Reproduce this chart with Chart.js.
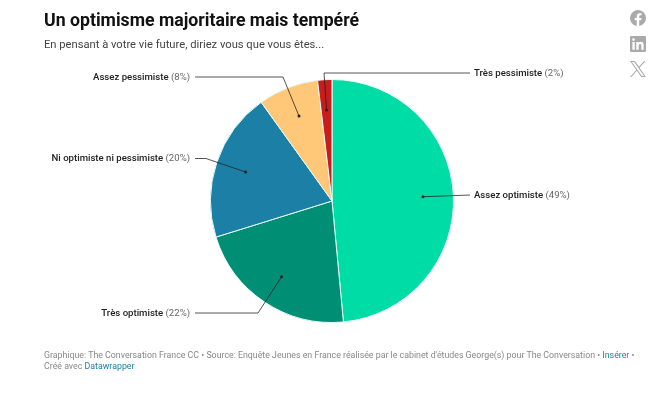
<!DOCTYPE html>
<html lang="fr">
<head>
<meta charset="utf-8">
<title>Un optimisme majoritaire mais tempéré</title>
<script src="https://cdn.jsdelivr.net/npm/chart.js@4"></script>
<style>
  html, body { margin: 0; padding: 0; background: #fff; }
  body { width: 657px; height: 394px; position: relative; overflow: hidden; font-family: Roboto, sans-serif; }
  #chart-box { position: absolute; left: 0; top: 0; width: 657px; height: 394px; }
  h1 { position: absolute; left: 44px; top: 8px; margin: 0; font-size: 17.7px; line-height: 24px; font-weight: 700; color: #111; white-space: nowrap; }
  .sub { position: absolute; left: 44px; top: 37px; margin: 0; font-size: 11.2px; line-height: 16px; font-weight: 400; color: #444; white-space: nowrap; }
  .foot { position: absolute; left: 44px; top: 350px; margin: 0; font-size: 8.8px; line-height: 11px; color: #888; width: 605px; }
  .foot a { color: #1d81a2; text-decoration: none; }
  svg.icon { position: absolute; left: 630px; width: 16px; height: 16px; fill: #aaa; }
</style>
</head>
<body>
<div id="chart-box"><canvas id="pie"></canvas></div>
<h1>Un optimisme majoritaire mais tempéré</h1>
<p class="sub">En pensant à votre vie future, diriez vous que vous êtes...</p>
<p class="foot">Graphique: The Conversation France CC • Source: Enquête Jeunes en France réalisée par le cabinet d'études George(s) pour The Conversation • <a href="#">Insérer</a> •<br>Créé avec <a href="#">Datawrapper</a></p>

<svg class="icon" style="top:10px" viewBox="0 0 24 24"><path d="M24 12a12 12 0 1 0-13.9 11.9v-8.4H7.1V12h3V9.400c0-3 1.800-4.700 4.500-4.700 1.300 0 2.700.2 2.700.2v3h-1.500c-1.500 0-2 .9-2 1.900V12h3.400l-.5 3.500h-2.900v8.400A12 12 0 0 0 24 12z"/></svg>
<svg class="icon" style="top:36px" viewBox="0 0 24 24"><path d="M22 0H2a2 2 0 0 0-2 2v20a2 2 0 0 0 2 2h20a2 2 0 0 0 2-2V2a2 2 0 0 0-2-2zM7.100 20.500H3.600V9h3.500v11.500zM5.300 7.400a2 2 0 1 1 0-4.100 2 2 0 0 1 0 4.100zm15.200 13.100H17v-5.600c0-1.300 0-3-1.900-3s-2.100 1.400-2.100 2.900v5.700H9.400V9h3.400v1.600c.5-.9 1.600-1.900 3.400-1.900 3.600 0 4.300 2.400 4.300 5.500v6.300z"/></svg>
<svg class="icon" style="top:61px" viewBox="0 0 24 24"><path fill-rule="evenodd" d="M14.300 10.200 23.200 0h-2.100l-7.700 8.800L7.200 0H0l9.400 13.500L0 24h2.100l8.200-9.300 6.500 9.300H24l-9.700-13.800zM2.900 1.500h3.300l14.900 21H17.800L2.900 1.500z"/></svg>

<script>
const categories = ['Assez optimiste', 'Très optimiste', 'Ni optimiste ni pessimiste', 'Assez pessimiste', 'Très pessimiste'];
const shares = [48.5, 21.7, 19.9, 8, 1.9];
const sliceColors = ['#00dca6', '#008f75', '#1c7fa6', '#ffc878', '#c71e1d'];

// where each outside label sits: side, y of the text, x of the text edge, elbow (null = straight)
const labelSpots = [
  { side: 'right', x: 474, y: 195, lineX: 470, elbow: null },
  { side: 'left', x: 190, y: 313, lineX: 195, elbow: [258, 313] },
  { side: 'left', x: 190, y: 158.5, lineX: 195, elbow: [206, 158.5] },
  { side: 'left', x: 190, y: 77, lineX: 195, elbow: [283, 77] },
  { side: 'right', x: 474, y: 73, lineX: 470, elbow: [324, 73] },
];

const labelFontBold = '500 9.6px Roboto';
const labelFontThin = '400 9.6px Roboto';

const leaderLabels = {
  id: 'leaderLabels',
  afterDatasetsDraw(chart) {
    const { ctx } = chart;
    const arcs = chart.getDatasetMeta(0).data;
    ctx.save();
    arcs.forEach((arc, i) => {
      const spot = labelSpots[i];
      const mid = (arc.startAngle + arc.endAngle) / 2;
      const r = arc.outerRadius * 0.75;
      const dotX = arc.x + Math.cos(mid) * r;
      const dotY = arc.y + Math.sin(mid) * r;

      ctx.strokeStyle = 'rgba(30,30,30,0.75)';
      ctx.lineWidth = 1;
      ctx.beginPath();
      ctx.moveTo(spot.lineX, spot.y);
      if (spot.elbow) ctx.lineTo(spot.elbow[0], spot.elbow[1]);
      ctx.lineTo(dotX, dotY);
      ctx.stroke();

      ctx.fillStyle = '#222';
      ctx.beginPath();
      ctx.arc(dotX, dotY, 1.5, 0, Math.PI * 2);
      ctx.fill();

      const name = categories[i];
      const pct = ` (${Math.round(shares[i])}%)`;
      ctx.textBaseline = 'middle';
      ctx.textAlign = 'left';
      ctx.font = labelFontBold;
      const nameW = ctx.measureText(name).width;
      ctx.font = labelFontThin;
      const pctW = ctx.measureText(pct).width;
      const startX = spot.side === 'left' ? spot.x - nameW - pctW : spot.x;
      const textY = spot.y + 0.5;
      ctx.font = labelFontBold;
      ctx.fillStyle = '#222';
      ctx.fillText(name, startX, textY);
      ctx.font = labelFontThin;
      ctx.fillStyle = '#666';
      ctx.fillText(pct, startX + nameW, textY);
    });
    ctx.restore();
  },
};

new Chart(document.getElementById('pie'), {
  type: 'pie',
  data: {
    labels: categories,
    datasets: [{ data: shares, backgroundColor: sliceColors, borderColor: '#e6fbf5', borderWidth: 1 }],
  },
  options: {
    responsive: true,
    maintainAspectRatio: false,
    animation: false,
    layout: { padding: { left: 210, right: 203, top: 79, bottom: 71 } },
    plugins: { legend: { display: false }, tooltip: { enabled: false } },
  },
  plugins: [leaderLabels],
});
</script>
</body>
</html>
